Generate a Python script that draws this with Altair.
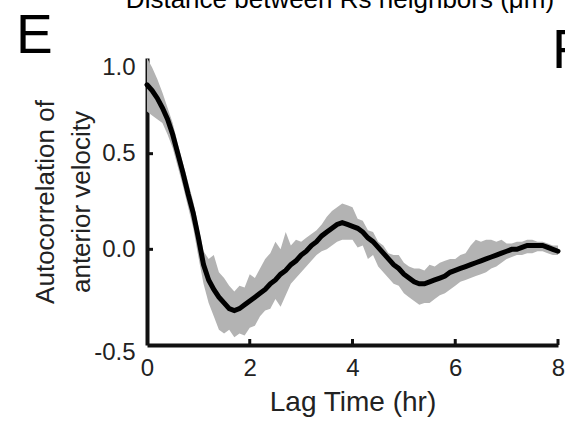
import altair as alt
import pandas as pd

lag = [0.0, 0.1, 0.2, 0.3, 0.4, 0.5, 0.6, 0.7, 0.8, 0.9,
       1.0, 1.1, 1.2, 1.3, 1.4, 1.5, 1.6, 1.7, 1.8, 1.9,
       2.0, 2.1, 2.2, 2.3, 2.4, 2.5, 2.6, 2.7, 2.8, 2.9,
       3.0, 3.1, 3.2, 3.3, 3.4, 3.5, 3.6, 3.7, 3.8, 3.9,
       4.0, 4.1, 4.2, 4.3, 4.4, 4.5, 4.6, 4.7, 4.8, 4.9,
       5.0, 5.1, 5.2, 5.3, 5.4, 5.5, 5.6, 5.7, 5.8, 5.9,
       6.0, 6.1, 6.2, 6.3, 6.4, 6.5, 6.6, 6.7, 6.8, 6.9,
       7.0, 7.1, 7.2, 7.3, 7.4, 7.5, 7.6, 7.7, 7.8, 7.9, 8.0]

mean_ac = [0.86, 0.83, 0.79, 0.74, 0.68, 0.60, 0.50, 0.40, 0.29, 0.19,
           0.06, -0.08, -0.16, -0.21, -0.25, -0.28, -0.31, -0.32, -0.31, -0.29,
           -0.27, -0.25, -0.23, -0.21, -0.18, -0.16, -0.13, -0.11, -0.08, -0.06,
           -0.03, -0.01, 0.02, 0.04, 0.07, 0.09, 0.11, 0.13, 0.14, 0.13,
           0.12, 0.11, 0.09, 0.06, 0.04, 0.01, -0.02, -0.05, -0.08, -0.10,
           -0.13, -0.15, -0.17, -0.18, -0.18, -0.17, -0.16, -0.15, -0.14, -0.12,
           -0.11, -0.10, -0.09, -0.08, -0.07, -0.06, -0.05, -0.04, -0.03, -0.02,
           -0.01, 0.00, 0.00, 0.01, 0.02, 0.02, 0.02, 0.02, 0.01, 0.00, -0.01]

upper_ac = [1.00, 0.95, 0.89, 0.82, 0.74, 0.66, 0.55, 0.45, 0.35, 0.25,
            0.12, -0.01, -0.05, -0.03, -0.12, -0.15, -0.19, -0.22, -0.19, -0.20,
            -0.13, -0.15, -0.10, -0.05, -0.02, 0.04, 0.00, 0.09, 0.02, 0.05,
            0.04, 0.06, 0.08, 0.10, 0.13, 0.17, 0.20, 0.22, 0.24, 0.23,
            0.22, 0.16, 0.15, 0.10, 0.09, 0.04, 0.02, -0.02, -0.03, -0.03,
            -0.07, -0.09, -0.10, -0.10, -0.11, -0.08, -0.09, -0.07, -0.06, -0.05,
            -0.05, -0.03, -0.02, 0.02, 0.05, 0.04, 0.05, 0.05, 0.04, 0.05,
            0.03, 0.03, 0.04, 0.04, 0.05, 0.05, 0.04, 0.04, 0.03, 0.02, 0.02]

lower_ac = [0.72, 0.70, 0.68, 0.66, 0.60, 0.53, 0.43, 0.33, 0.22, 0.11,
            -0.04, -0.18, -0.28, -0.35, -0.42, -0.44, -0.42, -0.46, -0.44, -0.45,
            -0.41, -0.40, -0.35, -0.32, -0.31, -0.26, -0.30, -0.24, -0.18, -0.15,
            -0.12, -0.09, -0.06, -0.03, -0.01, 0.00, 0.02, 0.04, 0.05, 0.05,
            0.05, 0.01, 0.02, -0.05, -0.03, -0.09, -0.12, -0.15, -0.18, -0.19,
            -0.23, -0.25, -0.27, -0.29, -0.28, -0.28, -0.26, -0.24, -0.23, -0.21,
            -0.19, -0.17, -0.16, -0.15, -0.14, -0.13, -0.12, -0.10, -0.09, -0.07,
            -0.05, -0.04, -0.03, -0.03, -0.02, -0.02, -0.01, -0.01, -0.02, -0.03, -0.03]

x_ticks = [0, 2, 4, 6, 8]
y_ticks = [-0.5, 0.0, 0.5, 1.0]

FONT = "Liberation Sans"
W, H = 411, 287
PADL, PADT = 147, 58

df = pd.DataFrame({"lag": lag, "mean": mean_ac, "upper": upper_ac, "lower": lower_ac})

xs = alt.Scale(domain=[0, 8], nice=False)
ys = alt.Scale(domain=[-0.5, 1.0], nice=False)

band = alt.Chart(df).mark_area(color="#b3b3b3", opacity=1).encode(
    x=alt.X("lag:Q", scale=xs,
            axis=alt.Axis(values=x_ticks, title="Lag Time (hr)", grid=False,
                          ticks=False, labelPadding=11, titlePadding=8,
                          labelFlush=False, format="d", titleFontSize=28)),
    y=alt.Y("lower:Q", scale=ys,
            axis=alt.Axis(values=y_ticks, title=["Autocorrelation of", "anterior velocity"],
                          grid=False, ticks=False, labelPadding=12, titlePadding=-1,
                          labelFlush=False, titleFontSize=26, titleLineHeight=36,
                          labelExpr="datum.value < 0 ? '-' + format(-datum.value, '.1f') : format(datum.value, '.1f')",
                          labelOffset={"condition": [{"test": "datum.value == 1", "value": 9},
                                                     {"test": "datum.value == -0.5", "value": 7}],
                                       "value": 0})),
    y2="upper:Q",
)

line = alt.Chart(df).mark_line(color="#000000", strokeWidth=5, strokeCap="round").encode(
    x=alt.X("lag:Q", scale=xs), y=alt.Y("mean:Q", scale=ys)
)

xt = alt.Chart(pd.DataFrame({"t": x_ticks[1:]})).mark_rule(color="#111111", strokeWidth=3).encode(
    x=alt.X("t:Q", scale=xs), y=alt.value(H), y2=alt.value(H - 6)
)
yt = alt.Chart(pd.DataFrame({"t": y_ticks[1:3]})).mark_rule(color="#111111", strokeWidth=3).encode(
    y=alt.Y("t:Q", scale=ys), x=alt.value(0), x2=alt.value(6)
)

def label(txt, x, y, size, align="left"):
    return alt.Chart(pd.DataFrame({"s": [txt]})).mark_text(
        font=FONT, fontSize=size, align=align, baseline="alphabetic", color="#000000"
    ).encode(text="s:N", x=alt.value(x), y=alt.value(y))

e_lbl = label("E", 16 - PADL, 53 - PADT, 55)
f_lbl = label("F", 552 - PADL, 68 - PADT, 55)
top_lbl = label("Distance between Rs neighbors (μm)", 340 - PADL, 8 - PADT, 26, align="center")

chart = alt.layer(band, line, xt, yt, e_lbl, f_lbl, top_lbl).properties(
    width=W, height=H,
    autosize=alt.AutoSizeParams(type="none"),
    padding={"left": PADL, "top": PADT, "right": 565 - PADL - W, "bottom": 425 - PADT - H},
).configure_view(stroke=None).configure_axis(
    domainColor="#111111", domainWidth=4, labelFont=FONT, labelFontSize=24,
    labelColor="#222222", titleFont=FONT, titleColor="#222222",
    titleFontWeight="normal",
)

chart.save("out.html", embed_options={"renderer": "svg", "actions": False})
